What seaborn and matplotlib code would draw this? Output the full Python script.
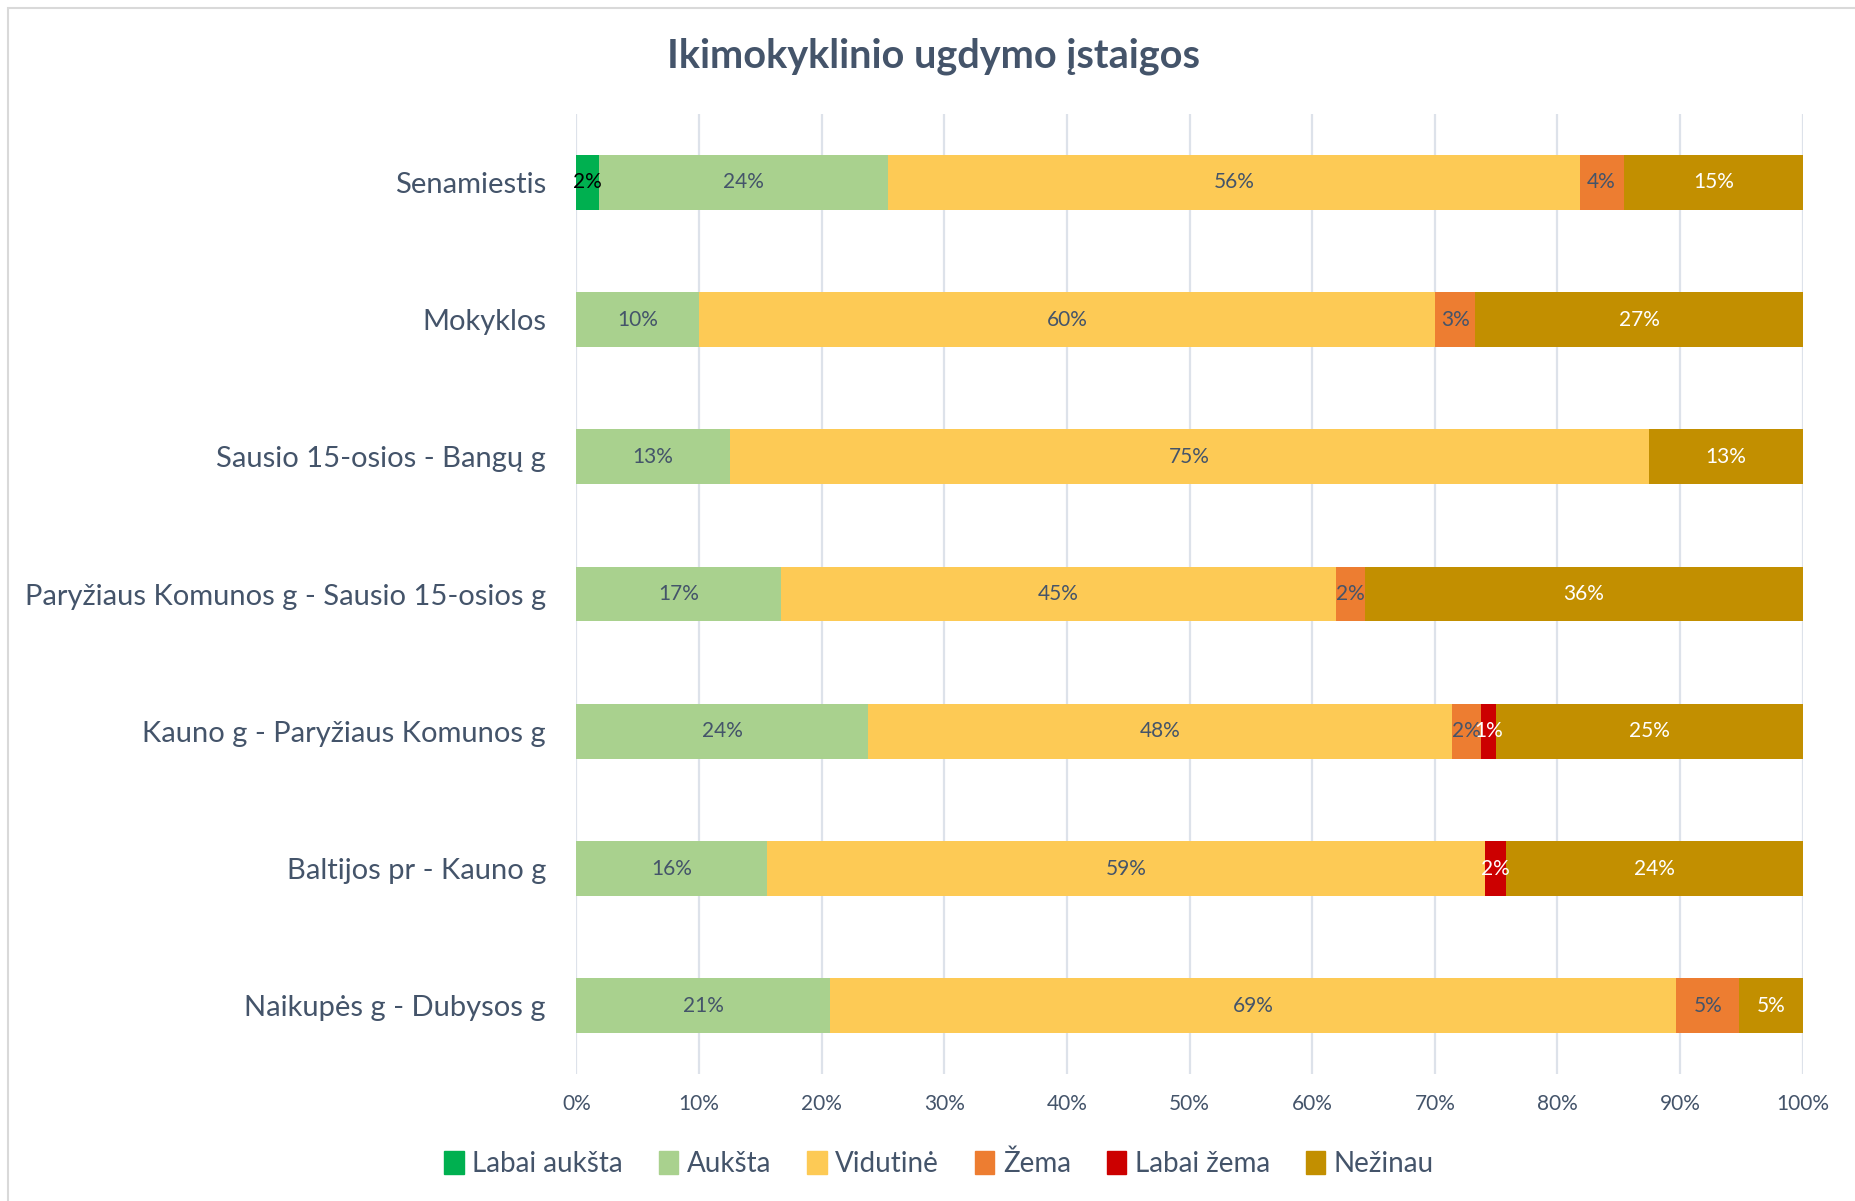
import matplotlib
matplotlib.use("Agg")
import matplotlib.pyplot as plt
import matplotlib.patches as mpatches
import numpy as np
import pandas as pd
import seaborn as sns

categories = [
    "Senamiestis",
    "Mokyklos",
    "Sausio 15-osios - Bangų g",
    "Paryžiaus Komunos g - Sausio 15-osios g",
    "Kauno g - Paryžiaus Komunos g",
    "Baltijos pr - Kauno g",
    "Naikupės g - Dubysos g",
]
series_names = ["Labai aukšta", "Aukšta", "Vidutinė", "Žema", "Labai žema", "Nežinau"]

labai_auksta = [1.8, 0, 0, 0, 0, 0, 0]
auksta = [23.6, 10.0, 12.5, 16.7, 23.8, 15.5, 20.7]
vidutine = [56.4, 60.0, 75.0, 45.2, 47.6, 58.6, 69.0]
zema = [3.6, 3.3, 0, 2.4, 2.4, 0, 5.1]
labai_zema = [0, 0, 0, 0, 1.2, 1.7, 0]
nezinau = [14.6, 26.7, 12.5, 35.7, 25.0, 24.2, 5.2]

colors = ["#00B050", "#A9D18E", "#FDCA55", "#ED7D31", "#CC0000", "#C28F00"]
label_colors = ["black", "#44546A", "#44546A", "#44546A", "white", "white"]
text_col = "#44546A"

sns.set_style("white")
plt.rcParams["font.family"] = ["Lato", "DejaVu Sans"]

values = np.array([labai_auksta, auksta, vidutine, zema, labai_zema, nezinau])
cum = values.cumsum(axis=0)

fig = plt.figure(figsize=(18.56, 12.01), dpi=100)
ax = fig.add_axes([0.3106, 0.1054, 0.6607, 0.8000])

# draw cumulative bars from the last series back to the first so each overlays the next
for i in range(len(series_names) - 1, -1, -1):
    df = pd.DataFrame({"cat": categories, "val": cum[i]})
    sns.barplot(data=df, x="val", y="cat", orient="h", color=colors[i],
                width=0.4, saturation=1, linewidth=0, ax=ax, zorder=3)

for i in range(len(series_names)):
    for j, v in enumerate(values[i]):
        if v <= 0:
            continue
        ax.text(cum[i][j] - v / 2, j, f"{int(v + 0.5)}%", ha="center", va="center",
                fontsize=15, color=label_colors[i], zorder=5)

ax.set_xlim(0, 100)
ax.set_ylim(6.5, -0.5)
ax.set_xticks(np.arange(0, 101, 10))
ax.set_xticklabels([f"{t}%" for t in range(0, 101, 10)], fontsize=15, color=text_col)
ax.tick_params(axis="y", labelsize=21, labelcolor=text_col, length=0, pad=22)
ax.tick_params(axis="x", length=0, pad=14)
ax.set_xlabel("")
ax.set_ylabel("")
ax.grid(axis="x", color="#DDE2EA", linewidth=1.6, zorder=0)
ax.set_axisbelow(True)
for s in ax.spines.values():
    s.set_visible(False)

fig.text(0.503, 0.953, "Ikimokyklinio ugdymo įstaigos", ha="center", va="center",
         fontsize=28.5, fontweight="bold", color=text_col)

handles = [mpatches.Patch(color=c, label=n) for c, n in zip(colors, series_names)]
fig.legend(handles=handles, loc="center", bbox_to_anchor=(0.506, 0.031), ncol=6,
           frameon=False, fontsize=20, labelcolor=text_col, handlelength=0.7,
           handleheight=0.9, handletextpad=0.3, columnspacing=1.3)

fig.patches.append(mpatches.Rectangle((8 / 1856, -0.05), 1.2, 1 - 8 / 1201 + 0.05,
                                      transform=fig.transFigure, fill=False,
                                      edgecolor="#D9D9D9", linewidth=1.5))

fig.savefig("out.png", dpi=100)
